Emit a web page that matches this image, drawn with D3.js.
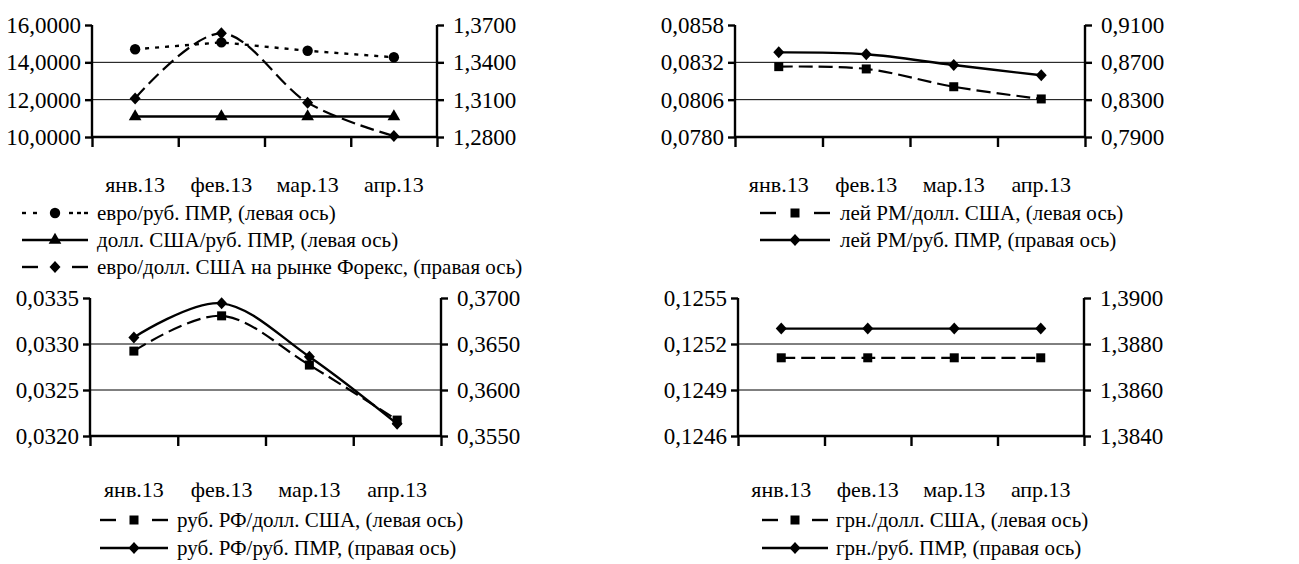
<!DOCTYPE html>
<html><head><meta charset="utf-8">
<script src="https://cdn.jsdelivr.net/npm/d3@7"></script>
<style>
html,body{margin:0;padding:0;background:#fff;}
</style></head>
<body>
<svg id="chart" width="1299" height="564"></svg>
<script>
// ---------- data ----------
const months = ["янв.13", "фев.13", "мар.13", "апр.13"];

const euroRubPMR   = [14.70, 15.07, 14.62, 14.27];
const usdRubPMR    = [11.10, 11.10, 11.10, 11.10];
const eurUsdForex  = [1.3110, 1.3633, 1.3076, 1.2808];

const leuUsd       = [0.08290, 0.08274, 0.08150, 0.08065];
const leuRubPMR    = [0.8807, 0.8786, 0.8671, 0.8561];

const rubRfUsd     = [0.032923, 0.033306, 0.032771, 0.032173];
const rubRfRubPMR  = [0.36571, 0.36942, 0.36361, 0.35632];

const uahUsd       = [0.12511, 0.12511, 0.12511, 0.12511];
const uahRubPMR    = [1.38867, 1.38867, 1.38867, 1.38867];

const p1LeftTicks  = [10, 12, 14, 16];
const p1RightTicks = [1.28, 1.31, 1.34, 1.37];
const p2LeftTicks  = [0.0780, 0.0806, 0.0832, 0.0858];
const p2RightTicks = [0.79, 0.83, 0.87, 0.91];
const p3LeftTicks  = [0.0320, 0.0325, 0.0330, 0.0335];
const p3RightTicks = [0.3550, 0.3600, 0.3650, 0.3700];
const p4LeftTicks  = [0.1246, 0.1249, 0.1252, 0.1255];
const p4RightTicks = [1.3840, 1.3860, 1.3880, 1.3900];

const p1Labels = ["евро/руб. ПМР, (левая ось)", "долл. США/руб. ПМР, (левая ось)", "евро/долл. США на рынке Форекс, (правая ось)"];
const p2Labels = ["лей РМ/долл. США, (левая ось)", "лей РМ/руб. ПМР, (правая ось)"];
const p3Labels = ["руб. РФ/долл. США, (левая ось)", "руб. РФ/руб. ПМР, (правая ось)"];
const p4Labels = ["грн./долл. США, (левая ось)", "грн./руб. ПМР, (правая ось)"];

// ---------- styles ----------
const FONT = "'Liberation Serif'";
const STY = {
  dotted: {dash: "4,6", width: 2.4},
  solid:  {dash: null,  width: 2.4},
  dashed: {dash: "14,6", width: 2.2}
};

const panels = [
  { box: {l: 92, r: 437, t: 25, b: 137}, lt: p1LeftTicks, rt: p1RightTicks,
    leg: {x0: 22, x1: 88, tx: 97, y: 213, dy: 27, xl: 192},
    series: [
      {v: euroRubPMR, axis: "L", sty: "dotted", mk: "circle", smooth: false, name: p1Labels[0]},
      {v: usdRubPMR, axis: "L", sty: "solid", mk: "triangle", smooth: false, name: p1Labels[1]},
      {v: eurUsdForex, axis: "R", sty: "dashed", mk: "diamond", smooth: true, name: p1Labels[2]}
    ]},
  { box: {l: 735, r: 1085, t: 25, b: 137}, lt: p2LeftTicks, rt: p2RightTicks,
    leg: {x0: 760, x1: 830, tx: 840, y: 213, dy: 27, xl: 192},
    series: [
      {v: leuUsd, axis: "L", sty: "dashed", mk: "square", smooth: true, name: p2Labels[0]},
      {v: leuRubPMR, axis: "R", sty: "solid", mk: "diamond", smooth: true, name: p2Labels[1]}
    ]},
  { box: {l: 90, r: 441, t: 298, b: 436}, lt: p3LeftTicks, rt: p3RightTicks,
    leg: {x0: 100, x1: 168, tx: 177, y: 520, dy: 28, xl: 497},
    series: [
      {v: rubRfUsd, axis: "L", sty: "dashed", mk: "square", smooth: true, name: p3Labels[0]},
      {v: rubRfRubPMR, axis: "R", sty: "solid", mk: "diamond", smooth: true, name: p3Labels[1]}
    ]},
  { box: {l: 738, r: 1084, t: 298, b: 436}, lt: p4LeftTicks, rt: p4RightTicks,
    leg: {x0: 762, x1: 828, tx: 836, y: 520, dy: 28, xl: 497},
    series: [
      {v: uahUsd, axis: "L", sty: "dashed", mk: "square", smooth: true, name: p4Labels[0]},
      {v: uahRubPMR, axis: "R", sty: "solid", mk: "diamond", smooth: true, name: p4Labels[1]}
    ]}
];

const svg = d3.select("#chart");
const fmt = v => d3.format(".4f")(v).replace(".", ",");
const TICK_FS = 23, XL_FS = 22, LEG_FS = 21;

function marker(g, type, x, y) {
  if (type === "circle") {
    g.append("circle").attr("cx", x).attr("cy", y).attr("r", 5.2).attr("fill", "#000");
  } else if (type === "triangle") {
    g.append("path").attr("d", d3.symbol(d3.symbolTriangle, 70)()).attr("transform", `translate(${x},${y})`).attr("fill", "#000");
  } else if (type === "diamond") {
    g.append("path").attr("d", `M0,-6L5.5,0L0,6L-5.5,0Z`).attr("transform", `translate(${x},${y})`).attr("fill", "#000");
  } else if (type === "square") {
    g.append("rect").attr("x", x - 4.5).attr("y", y - 4.5).attr("width", 9).attr("height", 9).attr("fill", "#000");
  }
}

function styleText(sel, fs) {
  sel.attr("font-size", null).attr("font-family", null)
     .style("font-family", FONT).style("font-size", fs + "px").attr("fill", "#000");
}

panels.forEach(p => {
  const g = svg.append("g");
  const {l, r, t, b} = p.box;
  const x = d3.scaleBand().domain(months).range([l, r]);
  const yL = d3.scaleLinear().domain(d3.extent(p.lt)).range([b, t]);
  const yR = d3.scaleLinear().domain(d3.extent(p.rt)).range([b, t]);

  g.selectAll(".grid").data(p.lt.slice(1, -1)).join("line")
    .attr("x1", l).attr("x2", r).attr("y1", d => yL(d)).attr("y2", d => yL(d))
    .attr("stroke", "#000").attr("stroke-width", 1);

  const axL = d3.axisLeft(yL).tickValues(p.lt).tickFormat(fmt).tickSize(7).tickPadding(4);
  const gL = g.append("g").attr("transform", `translate(${l},0)`).call(axL);
  const axR = d3.axisRight(yR).tickValues(p.rt).tickFormat(fmt).tickSize(7).tickPadding(9);
  const gR = g.append("g").attr("transform", `translate(${r},0)`).call(axR);
  const axB = d3.axisBottom(d3.scaleLinear().domain([0, 4]).range([l, r])).tickValues([0,1,2,3,4]).tickSize(10).tickFormat("");
  const gB = g.append("g").attr("transform", `translate(0,${b})`).call(axB);

  [gL, gR, gB].forEach(a => {
    a.attr("font-family", null).attr("font-size", null);
    a.select(".domain").attr("stroke", "#000").attr("stroke-width", 2.4);
    a.selectAll(".tick line").attr("stroke", "#000").attr("stroke-width", 2.4);
    styleText(a.selectAll("text"), TICK_FS);
  });
  gL.select(".domain").attr("d", `M0,${t}V${b}`);
  gR.select(".domain").attr("d", `M0,${t}V${b}`);
  gB.select(".domain").attr("d", `M${l},0H${r}`);

  const xl = g.selectAll(".xl").data(months).join("text")
    .attr("x", d => x(d) + x.bandwidth() / 2).attr("y", p.leg.xl)
    .attr("text-anchor", "middle").text(d => d);
  styleText(xl, XL_FS);

  p.series.forEach(s => {
    const ys = s.axis === "L" ? yL : yR;
    const line = d3.line().x((d, i) => x(months[i]) + x.bandwidth() / 2).y(d => ys(d))
      .curve(s.smooth ? d3.curveCardinal.tension(0) : d3.curveLinear);
    g.append("path").datum(s.v).attr("d", line).attr("fill", "none")
      .attr("stroke", "#000").attr("stroke-width", STY[s.sty].width)
      .attr("stroke-dasharray", STY[s.sty].dash);
    s.v.forEach((d, i) => marker(g, s.mk, x(months[i]) + x.bandwidth() / 2, ys(d)));
  });

  p.series.forEach((s, i) => {
    const yy = p.leg.y + i * p.leg.dy;
    const {x0, x1, tx} = p.leg;
    const mid = (x0 + x1) / 2;
    const seg = (a, c) => g.append("line").attr("x1", a).attr("x2", c).attr("y1", yy).attr("y2", yy)
      .attr("stroke", "#000").attr("stroke-width", 2.4);
    if (s.sty === "solid") {
      seg(x0, x1);
    } else if (s.sty === "dashed") {
      seg(x0, x0 + 16); seg(x1 - 16, x1);
    } else {
      seg(x0, x0 + 4); seg(x0 + 11, x0 + 15); seg(x1 - 19, x1 - 15); seg(x1 - 11, x1 - 7); seg(x1 - 4, x1);
    }
    marker(g, s.mk, mid, yy);
    const tt = g.append("text").attr("x", tx).attr("y", yy + 7).text(s.name);
    styleText(tt, LEG_FS);
  });
});
</script>
</body></html>
